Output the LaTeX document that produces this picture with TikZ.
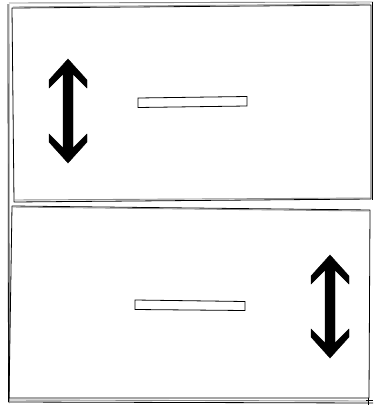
\documentclass[tikz,border=0pt]{standalone}
\begin{document}
\begin{tikzpicture}[x=1pt,y=-1pt,
  sk/.style={line width=0.8pt,draw=black,line join=round},
  skg/.style={line width=0.9pt,draw=black!45,line join=round},
  bar/.style={line width=0.8pt,draw=black,fill=white},
  bigarrow/.style={fill=black,draw=black,line width=0.4pt,line join=miter}]
\useasboundingbox (0,0) rectangle (373,405);
\fill[white] (0,0) rectangle (373,405);
% outer sketch frame
\draw[skg] (9,3) -- (373,2);
\draw[sk] (8,4) -- (8.5,402) -- (373,403);
\draw[skg] (9,4) -- (9.5,403);
\draw[sk] (372,2) -- (372,200);
% top box
\draw[sk] (12,8) -- (371,5) -- (371,199) -- (14,202) -- cycle;
\draw[skg] (13,7) -- (370,4);
\draw[skg] (14,200) -- (371,198);
% bottom box
\draw[sk] (12,206) -- (370,210) -- (369,398) -- (9,398) -- cycle;
\draw[skg] (12,207) -- (369,211);
\draw[skg] (10,400) -- (368,401);
\draw[sk] (368,398) -- (368,405);
\draw[sk] (366,400) -- (373,400);
% bars
\draw[bar] (138,98) -- (247,96.5) -- (247,106) -- (138,107.5) -- cycle;
\draw[bar] (135,300) -- (245,301.5) -- (245,310.5) -- (135,309.5) -- cycle;
% double arrows
\foreach \cx/\ty/\by in {68/59/163, 330/255/358}{
  \fill[bigarrow] (\cx,\ty) -- ({\cx+19},{\ty+21}) -- ({\cx+19},{\ty+29}) -- ({\cx+5},{\ty+15})
    -- ({\cx+5},{\by-15}) -- ({\cx+19},{\by-29}) -- ({\cx+19},{\by-21}) -- (\cx,\by)
    -- ({\cx-19},{\by-21}) -- ({\cx-19},{\by-29}) -- ({\cx-5},{\by-15})
    -- ({\cx-5},{\ty+15}) -- ({\cx-19},{\ty+29}) -- ({\cx-19},{\ty+21}) -- cycle;
}
\end{tikzpicture}
\end{document}
